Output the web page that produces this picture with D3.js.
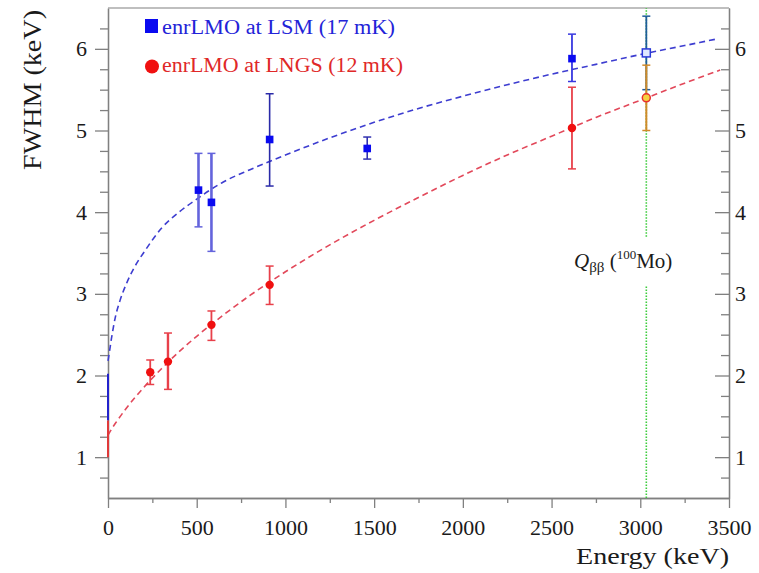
<!DOCTYPE html>
<html><head><meta charset="utf-8">
<script src="https://cdn.jsdelivr.net/npm/d3@7"></script>
<style>
html,body{margin:0;padding:0;background:#fff;}
svg{display:block;font-family:"Liberation Serif","Times New Roman",serif;}
</style></head>
<body><svg id="c" width="759" height="573"></svg>
<script>
// ---- data ----
const xTicks = [0, 500, 1000, 1500, 2000, 2500, 3000, 3500];
const yTicks = [1, 2, 3, 4, 5, 6];

const lsmEnergy = [510, 583, 911, 1461, 2615];
const lsmFwhm   = [4.27, 4.12, 4.89, 4.78, 5.88];
const lsmLo     = [3.82, 3.52, 4.32, 4.65, 5.60];
const lsmHi     = [4.72, 4.72, 5.45, 4.92, 6.18];

const lngsEnergy = [238, 338, 583, 911, 2615];
const lngsFwhm   = [2.04, 2.17, 2.62, 3.11, 5.03];
const lngsLo     = [1.89, 1.83, 2.43, 2.87, 4.53];
const lngsHi     = [2.19, 2.52, 2.79, 3.34, 5.53];

// baseline (E = 0) bars
const lsmBaseline  = [1.45, 2.02];
const lngsBaseline = [1.00, 1.45];

// Q_bb extrapolations
const qbbEnergy = 3034;
const lsmQbb  = [5.95, 5.50, 6.40];
const lngsQbb = [5.40, 5.00, 5.80];
const qbbGap  = [3.10, 3.70];

// fit curves
const lsmFitE = [0, 6, 20, 40, 68, 105, 150, 209, 300, 400, 500, 650, 800, 1000, 1250, 1500, 1750, 2000, 2250, 2500, 2750, 3000, 3250, 3430];
const lsmFitY = [2.18, 2.26, 2.46, 2.70, 2.92, 3.13, 3.33, 3.53, 3.80, 4.00, 4.16, 4.37, 4.52, 4.70, 4.91, 5.10, 5.27, 5.42, 5.56, 5.69, 5.81, 5.93, 6.04, 6.12];
const lngsFitE = [0, 25, 50, 100, 200, 300, 400, 500, 650, 800, 1000, 1250, 1500, 1750, 2000, 2250, 2500, 2750, 3000, 3250, 3450];
const lngsFitY = [1.27, 1.36, 1.44, 1.59, 1.85, 2.08, 2.29, 2.48, 2.74, 2.98, 3.27, 3.60, 3.90, 4.18, 4.45, 4.70, 4.93, 5.16, 5.37, 5.58, 5.74];

// ---- chart ----
const svg = d3.select("#c");
const x = d3.scaleLinear().domain([0, 3500]).range([108, 729]);
const y = d3.scaleLinear().domain([0.5, 6.5]).range([498, 8]);
const axisCol = "#808080";

function styleAxis(g) {
  g.selectAll("path.domain").attr("stroke", axisCol).attr("stroke-width", 1.3);
  g.selectAll(".tick line").attr("stroke", axisCol).attr("stroke-width", 1.3);
  g.selectAll(".tick text").attr("fill", "#1a1a1a").style("font-family", "Liberation Serif").style("font-size", "22px");
}
const minorX = d3.range(250, 3500, 500);
const minorY = d3.range(0.75, 6.5, 0.25).filter(v => Math.abs(v - Math.round(v)) > 1e-6);

// minor ticks
svg.append("g").attr("transform", `translate(0,${y(0.5)})`)
  .call(d3.axisBottom(x).tickValues(minorX).tickSize(5).tickSizeOuter(0).tickFormat(""))
  .call(styleAxis);
svg.append("g").attr("transform", `translate(${x(0)},0)`)
  .call(d3.axisLeft(y).tickValues(minorY).tickSize(8).tickSizeOuter(0).tickFormat(""))
  .call(styleAxis);
svg.append("g").attr("transform", `translate(${x(3500)},0)`)
  .call(d3.axisRight(y).tickValues(minorY).tickSize(-8).tickSizeOuter(0).tickFormat(""))
  .call(styleAxis);
// major ticks
svg.append("g").attr("transform", `translate(0,${y(0.5)})`)
  .call(d3.axisBottom(x).tickValues(xTicks).tickSize(10).tickPadding(11).tickSizeOuter(0).tickFormat(d3.format("d")))
  .call(styleAxis);
svg.append("g").attr("transform", `translate(${x(0)},0)`)
  .call(d3.axisLeft(y).tickValues(yTicks).tickSize(13).tickPadding(8).tickSizeOuter(0).tickFormat(d3.format("d")))
  .call(styleAxis);
svg.append("g").attr("transform", `translate(${x(3500)},0)`)
  .call(d3.axisRight(y).tickValues(yTicks).tickSize(-14).tickPadding(6).tickSizeOuter(0).tickFormat(d3.format("d")))
  .call(styleAxis);
// top frame
svg.append("line").attr("x1", x(0)).attr("x2", x(3500)).attr("y1", y(6.5)).attr("y2", y(6.5))
  .attr("stroke", "#aaa").attr("stroke-width", 1.3);

// axis titles
svg.append("text").attr("transform", `translate(41,90) rotate(-90)`)
  .attr("text-anchor", "middle").attr("font-size", 25).attr("fill", "#1a1a1a")
  .attr("textLength", 160).attr("lengthAdjust", "spacingAndGlyphs").text("FWHM (keV)");
svg.append("text").attr("x", 729).attr("y", 564).attr("text-anchor", "end")
  .attr("font-size", 24).attr("fill", "#1a1a1a")
  .attr("textLength", 153).attr("lengthAdjust", "spacingAndGlyphs").text("Energy (keV)");

// fit curves
const line = d3.line().x(d => x(d[0])).y(d => y(d[1])).curve(d3.curveMonotoneX);
svg.append("path").datum(lngsFitE.map((e, i) => [e, lngsFitY[i]]))
  .attr("d", line).attr("fill", "none").attr("stroke", "#e2485a").attr("stroke-width", 1.6)
  .attr("stroke-dasharray", "6,4");
svg.append("path").datum(lsmFitE.map((e, i) => [e, lsmFitY[i]]))
  .attr("d", line).attr("fill", "none").attr("stroke", "#3d3dd0").attr("stroke-width", 1.6)
  .attr("stroke-dasharray", "6,4");

// Q_bb green dotted line
[[0.5, qbbGap[0]], [qbbGap[1], 6.5]].forEach(seg => {
  svg.append("line").attr("x1", x(qbbEnergy)).attr("x2", x(qbbEnergy))
    .attr("y1", y(seg[0])).attr("y2", y(seg[1]))
    .attr("stroke", "#3ccc3c").attr("stroke-width", 1.6).attr("stroke-dasharray", "1.5,1.5");
});
// Q_bb label
const ql = svg.append("text").attr("x", 574).attr("y", 268).attr("font-size", 21).attr("fill", "#1a1a1a");
ql.append("tspan").attr("font-style", "italic").text("Q");
ql.append("tspan").attr("font-size", 15).attr("dy", 4).text("ββ");
ql.append("tspan").attr("dy", -4).text(" (");
ql.append("tspan").attr("font-size", 13).attr("dy", -9).text("100");
ql.append("tspan").attr("dy", 9).text("Mo)");

// baseline bars at E=0
svg.append("line").attr("x1", x(0)).attr("x2", x(0)).attr("y1", y(lsmBaseline[0])).attr("y2", y(lsmBaseline[1]))
  .attr("stroke", "#2222cc").attr("stroke-width", 2);
svg.append("line").attr("x1", x(0)).attr("x2", x(0)).attr("y1", y(lngsBaseline[0])).attr("y2", y(lngsBaseline[1]))
  .attr("stroke", "#e03a3a").attr("stroke-width", 2);

// error bars
function errBar(e, lo, hi, col, w) {
  const g = svg.append("g").attr("stroke", col).attr("stroke-width", w);
  g.append("line").attr("x1", x(e)).attr("x2", x(e)).attr("y1", y(lo)).attr("y2", y(hi));
  g.append("line").attr("x1", x(e) - 4).attr("x2", x(e) + 4).attr("y1", y(lo)).attr("y2", y(lo)).attr("stroke-width", 1.5);
  g.append("line").attr("x1", x(e) - 4).attr("x2", x(e) + 4).attr("y1", y(hi)).attr("y2", y(hi)).attr("stroke-width", 1.5);
}
const lsmErrCol = ["#6464dc", "#6464dc", "#2a2aa8", "#3030b0", "#3838e0"];
const lsmErrW = [2.6, 2.6, 1.6, 1.6, 1.8];
lsmEnergy.forEach((e, i) => errBar(e, lsmLo[i], lsmHi[i], lsmErrCol[i], lsmErrW[i]));
lngsEnergy.forEach((e, i) => errBar(e, lngsLo[i], lngsHi[i], "#e8404a", i === 1 ? 2.4 : 1.8));
errBar(qbbEnergy, lsmQbb[1], lsmQbb[2], "#1f5c9a", 1.8);
errBar(qbbEnergy, lngsQbb[1], lngsQbb[2], "#d08a2a", 2);

// markers
svg.selectAll("rect.lsm").data(lsmEnergy).enter().append("rect").attr("class", "lsm")
  .attr("x", (d) => x(d) - 3.8).attr("y", (d, i) => y(lsmFwhm[i]) - 3.8)
  .attr("width", 7.6).attr("height", 7.6).attr("fill", "#0a0af0");
svg.selectAll("circle.lngs").data(lngsEnergy).enter().append("circle").attr("class", "lngs")
  .attr("cx", d => x(d)).attr("cy", (d, i) => y(lngsFwhm[i])).attr("r", 4.2).attr("fill", "#f01010");
svg.append("rect").attr("x", x(qbbEnergy) - 4).attr("y", y(lsmQbb[0]) - 4).attr("width", 8).attr("height", 8)
  .attr("fill", "#dfe8ff").attr("stroke", "#2a3ad8").attr("stroke-width", 1.5);
svg.append("circle").attr("cx", x(qbbEnergy)).attr("cy", y(lngsQbb[0])).attr("r", 4)
  .attr("fill", "#f5d040").attr("stroke", "#e83030").attr("stroke-width", 1.5);

// legend
svg.append("rect").attr("x", 145).attr("y", 19).attr("width", 13).attr("height", 14).attr("fill", "#0a0af0");
svg.append("text").attr("x", 162).attr("y", 34).attr("font-size", 20).attr("fill", "#2323d8")
  .attr("textLength", 233).attr("lengthAdjust", "spacingAndGlyphs").text("enrLMO at LSM (17 mK)");
svg.append("circle").attr("cx", 152).attr("cy", 66.5).attr("r", 7).attr("fill", "#f01010");
svg.append("text").attr("x", 162).attr("y", 72).attr("font-size", 20).attr("fill", "#e02828")
  .attr("textLength", 241).attr("lengthAdjust", "spacingAndGlyphs").text("enrLMO at LNGS (12 mK)");
</script></body></html>
